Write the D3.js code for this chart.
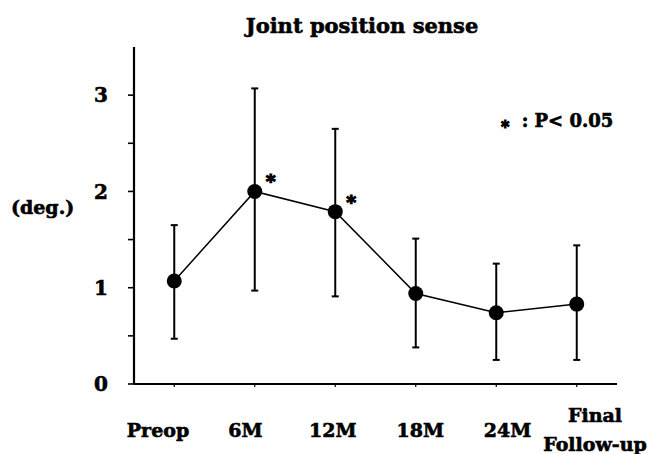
<!DOCTYPE html>
<html>
<head>
<meta charset="utf-8">
<script src="https://cdn.jsdelivr.net/npm/d3@7"></script>
<style>
  body { margin: 0; background: #fff; }
  svg text { font-family: "DejaVu Serif", serif; font-weight: bold; fill: #000; stroke: #000; stroke-width: 0.6px; }
</style>
</head>
<body>
<svg id="chart" width="649" height="454"></svg>
<script>
// data
var categories = ["Preop", "6M", "12M", "18M", "24M", "Final Follow-up"];
var means = [1.07, 2.00, 1.79, 0.94, 0.74, 0.83];
var upper = [1.65, 3.07, 2.65, 1.51, 1.25, 1.44];
var lower = [0.47, 0.97, 0.91, 0.38, 0.25, 0.25];
var significant = [false, true, true, false, false, false];
var yTicks = [0, 1, 2, 3];
var yMinorTicks = [0, 0.5, 1, 1.5, 2, 2.5, 3];

var svg = d3.select("#chart");
var plot = {left: 134, right: 617, top: 47, bottom: 384};

var xscale = d3.scaleBand().domain(categories).range([plot.left, plot.right]);
// category labels sit on their own, slightly wider spacing
var xlabel = d3.scalePoint().domain(categories).range([158, 595]);
var yscale = d3.scaleLinear().domain([0, 3.5]).range([plot.bottom, plot.top]);
function cx(d) { return xscale(d) + xscale.bandwidth() / 2; }

// title
svg.append("text")
    .attr("x", 362).attr("y", 33)
    .attr("text-anchor", "middle")
    .attr("font-size", 21)
    .text("Joint position sense");

// y axis
var yAxis = svg.append("g").attr("class", "y_axis");
yAxis.append("line")
    .attr("x1", plot.left).attr("x2", plot.left)
    .attr("y1", plot.top).attr("y2", plot.bottom)
    .attr("stroke", "#000").attr("stroke-width", 2.2);
yAxis.selectAll(".ytick")
    .data(yMinorTicks)
    .enter().append("line")
    .attr("x1", plot.left - 6).attr("x2", plot.left)
    .attr("y1", function(d) { return yscale(d); })
    .attr("y2", function(d) { return yscale(d); })
    .attr("stroke", "#000").attr("stroke-width", 1.6);
yAxis.selectAll(".ylabel")
    .data(yTicks)
    .enter().append("text")
    .attr("x", 108)
    .attr("y", function(d) { return yscale(d); })
    .attr("dy", "0.36em")
    .attr("text-anchor", "end")
    .attr("font-size", 20)
    .text(function(d) { return d; });

svg.append("text")
    .attr("x", 11).attr("y", 214)
    .attr("font-size", 19)
    .text("(deg.)");

// x axis
var xAxis = svg.append("g").attr("class", "x_axis");
xAxis.append("line")
    .attr("x1", plot.left).attr("x2", plot.right)
    .attr("y1", plot.bottom).attr("y2", plot.bottom)
    .attr("stroke", "#000").attr("stroke-width", 2.2);
xAxis.selectAll(".xtick")
    .data(categories)
    .enter().append("line")
    .attr("x1", cx).attr("x2", cx)
    .attr("y1", plot.bottom).attr("y2", plot.bottom + 3)
    .attr("stroke", "#000").attr("stroke-width", 1.2);
xAxis.selectAll(".xlabel")
    .data(categories)
    .enter().append("text")
    .attr("text-anchor", "middle")
    .attr("font-size", 19)
    .each(function(d) {
        var words = d.split(" ");
        var t = d3.select(this);
        if (words.length == 1) {
            t.append("tspan").attr("x", xlabel(d)).attr("y", 437).text(d);
        } else {
            t.append("tspan").attr("x", xlabel(d)).attr("y", 422).text(words[0]);
            t.append("tspan").attr("x", xlabel(d)).attr("y", 451).text(words[1]);
        }
    });

// error bars
var bars = svg.append("g");
bars.selectAll(".err")
    .data(categories)
    .enter().append("line")
    .attr("x1", cx).attr("x2", cx)
    .attr("y1", function(d, i) { return yscale(upper[i]); })
    .attr("y2", function(d, i) { return yscale(lower[i]); })
    .attr("stroke", "#000").attr("stroke-width", 2);
[upper, lower].forEach(function(arr) {
    bars.selectAll(null)
        .data(categories)
        .enter().append("line")
        .attr("x1", function(d) { return cx(d) - 3.5; })
        .attr("x2", function(d) { return cx(d) + 3.5; })
        .attr("y1", function(d, i) { return yscale(arr[i]); })
        .attr("y2", function(d, i) { return yscale(arr[i]); })
        .attr("stroke", "#000").attr("stroke-width", 2);
});

// mean line + points
var line = d3.line()
    .x(function(d, i) { return cx(categories[i]); })
    .y(function(d) { return yscale(d); });
svg.append("path")
    .datum(means)
    .attr("d", line)
    .attr("fill", "none")
    .attr("stroke", "#000")
    .attr("stroke-width", 1.5);
svg.selectAll(".pt")
    .data(means)
    .enter().append("circle")
    .attr("cx", function(d, i) { return cx(categories[i]); })
    .attr("cy", function(d) { return yscale(d); })
    .attr("r", 7.5)
    .attr("fill", "#000");

// significance stars
svg.selectAll(".star")
    .data(means.filter(function(d, i) { return significant[i]; }))
    .enter().append("text")
    .attr("x", function(d) { return cx(categories[means.indexOf(d)]) + 16; })
    .attr("y", function(d) { return yscale(d) - 3; })
    .attr("text-anchor", "middle")
    .attr("font-size", 19)
    .style("stroke-width", "1.2px")
    .text("*");

// legend
var legend = svg.append("text")
    .attr("x", 501).attr("y", 127)
    .attr("font-size", 18);
legend.append("tspan").attr("font-size", 16).attr("dy", 5).style("stroke-width", "1.1px").text("*");
legend.append("tspan").attr("dy", -5).attr("dx", 6).text(" : P< 0.05");
</script>
</body>
</html>
